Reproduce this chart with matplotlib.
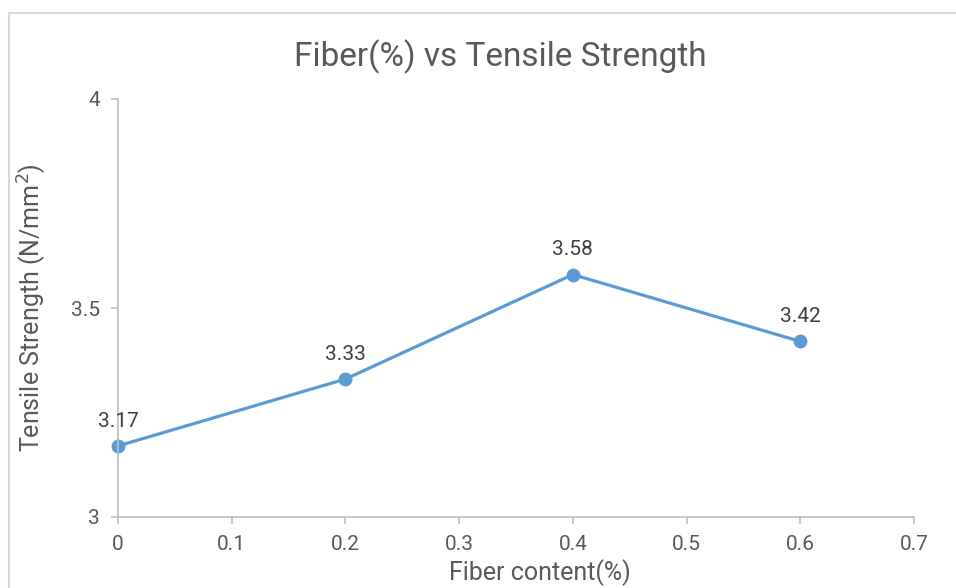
import matplotlib
matplotlib.use('Agg')
import matplotlib.pyplot as plt
from matplotlib.patches import Rectangle

# 데이터
fiber = [0, 0.2, 0.4, 0.6]
strength = [3.17, 3.33, 3.58, 3.42]
x_ticks = [0, 0.1, 0.2, 0.3, 0.4, 0.5, 0.6, 0.7]
y_ticks = [3, 3.5, 4]

plt.rcParams['font.family'] = ['Roboto', 'DejaVu Sans']
text_col = '#595959'
axis_col = '#BFBFBF'
line_col = '#5B9BD5'

fig = plt.figure(figsize=(9.56, 5.88), dpi=100)
ax = fig.add_axes([118 / 956, 71 / 588, 796 / 956, 418 / 588])

# 차트 외곽선
fig.add_artist(Rectangle((9 / 956, -0.1), 1.2, (575 / 588) + 0.1,
                         transform=fig.transFigure, fill=False,
                         edgecolor='#D9D9D9', linewidth=1.5))

ax.plot(fiber, strength, color=line_col, linewidth=2.3,
        marker='o', markersize=9, clip_on=False)
for x, y in zip(fiber, strength):
    ax.annotate(f"{y:.2f}", (x, y), xytext=(0, 11), textcoords='offset points',
                ha='center', va='bottom', fontsize=15, color='#404040')

ax.set_xlim(0, 0.7)
ax.set_ylim(3, 4)
ax.set_xticks(x_ticks)
ax.set_xticklabels([f"{t:g}" for t in x_ticks])
ax.set_yticks(y_ticks)
ax.set_yticklabels([f"{t:g}" for t in y_ticks])

for s in ['top', 'right']:
    ax.spines[s].set_visible(False)
for s in ['left', 'bottom']:
    ax.spines[s].set_color(axis_col)
    ax.spines[s].set_linewidth(1.2)
ax.tick_params(colors=axis_col, labelcolor=text_col, labelsize=15,
               length=5, width=1.2, direction='out', pad=8)

ax.text(0.48, 1.1, 'Fiber(%) vs Tensile Strength', transform=ax.transAxes,
        ha='center', va='center', fontsize=24, color=text_col)
ax.set_xlabel('Fiber content(%)', fontsize=18, color=text_col)
ax.xaxis.set_label_coords(0.53, -0.1)
ax.set_ylabel('Tensile Strength (N/mm$^2$)', fontsize=18, color=text_col)
ax.yaxis.set_label_coords(-0.087, 0.5)

fig.savefig('out.png', dpi=100)
